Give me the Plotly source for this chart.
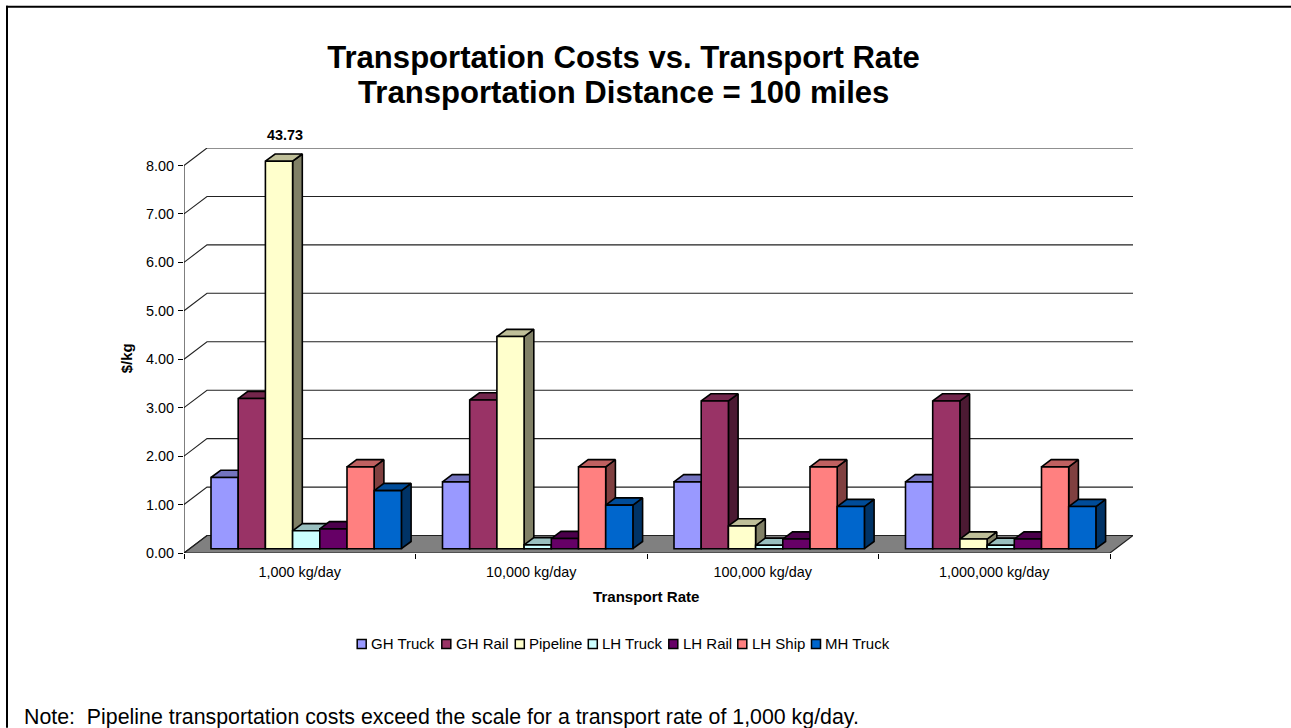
import plotly.graph_objects as go

# ---------- data ----------
categories = ["1,000 kg/day", "10,000 kg/day", "100,000 kg/day", "1,000,000 kg/day"]
gh_truck = [1.47, 1.38, 1.38, 1.38]
gh_rail = [3.10, 3.07, 3.05, 3.05]
pipeline = [43.73, 4.38, 0.47, 0.20]
lh_truck = [0.37, 0.08, 0.07, 0.07]
lh_rail = [0.41, 0.21, 0.20, 0.20]
lh_ship = [1.69, 1.69, 1.69, 1.69]
mh_truck = [1.20, 0.90, 0.87, 0.87]
series_names = ["GH Truck", "GH Rail", "Pipeline", "LH Truck", "LH Rail", "LH Ship", "MH Truck"]
series_values = [gh_truck, gh_rail, pipeline, lh_truck, lh_rail, lh_ship, mh_truck]
y_ticks = [0, 1, 2, 3, 4, 5, 6, 7, 8]

# ---------- style / layout ----------
colors = ["#9999FF", "#993366", "#FFFFCC", "#CCFFFF", "#660066", "#FF8080", "#0066CC"]
FONT = "Liberation Sans, Arial, sans-serif"
W, H = 1291, 728
PX_L, PX_R, PX_T, PX_B = 184, 1133, 147.5, 553
UNIT_X = 231.5           # px per category
UNIT_Y = 48.5            # px per $/kg
AXIS_MAX = 8
WALL_DX, WALL_DY = 23 / UNIT_X, 17.5 / UNIT_Y
BAR_DX, BAR_DY = 9.7 / UNIT_X, 7.2 / UNIT_Y
BAR_W = 27.2 / UNIT_X
BAR_X0 = 27 / UNIT_X
BAR_BASE = 4.3 / UNIT_Y
EDGE = 1.6


def shade(hex_color, f):
    r, g, b = (int(hex_color[i:i + 2], 16) for i in (1, 3, 5))
    return f"rgb({round(r * f)},{round(g * f)},{round(b * f)})"


def paper_x(px):
    return (px - PX_L) / (PX_R - PX_L)


def paper_y(py):
    return (PX_B - py) / (PX_B - PX_T)


fig = go.Figure()
n = len(categories)

# floor
fig.add_trace(go.Scatter(
    x=[0, WALL_DX, n + WALL_DX, n, 0], y=[0, WALL_DY, WALL_DY, 0, 0],
    mode="lines", fill="toself", fillcolor="#808080",
    line=dict(color="#222222", width=1.2), hoverinfo="skip", showlegend=False,
    cliponaxis=False, zorder=0))

# gridlines (side wall + back wall)
gx, gy = [], []
for t in y_ticks:
    gx += [0, WALL_DX, n + WALL_DX, None]
    gy += [t, t + WALL_DY, t + WALL_DY, None]
fig.add_trace(go.Scatter(x=gx, y=gy, mode="lines", line=dict(color="#222222", width=1.1),
                         hoverinfo="skip", showlegend=False, cliponaxis=False, zorder=0))

# value axis line
fig.add_trace(go.Scatter(x=[0, 0], y=[0, AXIS_MAX], mode="lines", line=dict(color="#000000", width=1),
                         hoverinfo="skip", showlegend=False, cliponaxis=False, zorder=0))

# bars, painted left to right so each one covers the side of its neighbour
for s, (name, vals, col) in enumerate(zip(series_names, series_values, colors)):
    drawn = [min(v, AXIS_MAX) for v in vals]
    lefts = [g + BAR_X0 + s * BAR_W for g in range(n)]
    side_x, side_y, top_x, top_y = [], [], [], []
    for xl, v in zip(lefts, drawn):
        xr = xl + BAR_W
        b, t = BAR_BASE, BAR_BASE + v
        side_x += [xr, xr + BAR_DX, xr + BAR_DX, xr, xr, None]
        side_y += [b, b + BAR_DY, t + BAR_DY, t, b, None]
        top_x += [xl, xl + BAR_DX, xr + BAR_DX, xr, xl, None]
        top_y += [t, t + BAR_DY, t + BAR_DY, t, t, None]
    fig.add_trace(go.Scatter(x=side_x, y=side_y, mode="lines", fill="toself",
                             fillcolor=shade(col, 0.5), line=dict(color="#000000", width=EDGE),
                             hoverinfo="skip", showlegend=False, cliponaxis=False, zorder=2 * s + 1))
    fig.add_trace(go.Scatter(x=top_x, y=top_y, mode="lines", fill="toself",
                             fillcolor=shade(col, 0.75), line=dict(color="#000000", width=EDGE),
                             hoverinfo="skip", showlegend=False, cliponaxis=False, zorder=2 * s + 1))
    fig.add_trace(go.Bar(x=[xl + BAR_W / 2 for xl in lefts], y=drawn, base=BAR_BASE, width=BAR_W,
                         name=name, marker=dict(color=col, line=dict(color="#000000", width=EDGE)),
                         customdata=vals, hovertemplate=name + ": %{customdata:.2f}<extra></extra>",
                         showlegend=False, cliponaxis=False, zorder=2 * s + 2))

shapes = [
    dict(type="line", xref="paper", yref="paper", x0=paper_x(7), x1=paper_x(7),
         y0=paper_y(5), y1=paper_y(728), line=dict(color="#000000", width=2)),
    dict(type="line", xref="paper", yref="paper", x0=paper_x(6), x1=paper_x(1291),
         y0=paper_y(6), y1=paper_y(6), line=dict(color="#000000", width=2)),
]
annotations = []


def text(px, py, s, size, bold=False, anchor="center", angle=0):
    annotations.append(dict(
        xref="paper", yref="paper", x=paper_x(px), y=paper_y(py), text=f"<b>{s}</b>" if bold else s,
        showarrow=False, xanchor=anchor, yanchor="middle", borderpad=0, textangle=angle,
        font=dict(family=FONT, size=size, color="#000000")))


# legend
legend_x = [356.4, 441, 514.5, 587.5, 668, 737, 810.7]
for name, col, lx in zip(series_names, colors, legend_x):
    shapes.append(dict(type="rect", xref="paper", yref="paper", x0=paper_x(lx + 0.8), x1=paper_x(lx + 9.8),
                       y0=paper_y(639.5), y1=paper_y(648.5), fillcolor=col,
                       line=dict(color="#000000", width=1.5), layer="above"))
    text(lx + 13.5, 644, name, 15, anchor="left")

# title second line, axis titles, pipeline label, note
text(623.5, 92, "Transportation Distance = 100 miles", 31.1, bold=True)
text(646, 597, "Transport Rate", 15.1, bold=True)
text(126.5, 358.5, "$/kg", 15, bold=True, angle=-90)
text(284.7, 134, f"{pipeline[0]:.2f}", 14.4, bold=True)
text(23, 717.5, "Note:\u00a0\u00a0Pipeline transportation costs exceed the scale for a transport rate of 1,000 kg/day.",
     21.35, anchor="left")

fig.update_layout(
    width=W, height=H, autosize=False,
    margin=dict(l=PX_L, r=W - PX_R, t=PX_T, b=H - PX_B),
    paper_bgcolor="#FFFFFF", plot_bgcolor="#FFFFFF",
    font=dict(family=FONT, color="#000000", size=14),
    showlegend=False, barmode="overlay",
    title=dict(text="<b>Transportation Costs vs. Transport Rate</b>", x=623.5 / W, xanchor="center",
               y=1 - 57 / H, yanchor="middle", font=dict(family=FONT, size=31.1, color="#000000")),
    xaxis=dict(range=[0, n + WALL_DX], showgrid=False, zeroline=False, showline=False,
               tickmode="array", tickvals=[g + 0.5 for g in range(n)], ticktext=categories,
               ticks="", tickfont=dict(size=14.4), ticklabelstandoff=9,
               minor=dict(tickmode="array", tickvals=list(range(n + 1)), ticks="outside",
                          ticklen=5, tickcolor="#000000", tickwidth=1, showgrid=False)),
    yaxis=dict(range=[0, AXIS_MAX + WALL_DY], showgrid=False, zeroline=False, showline=False,
               tickmode="array", tickvals=y_ticks, ticktext=[f"{t:.2f}" for t in y_ticks],
               ticks="outside", ticklen=5, tickcolor="#000000", tickwidth=1, tickfont=dict(size=14.4),
               ticklabelstandoff=1),
    shapes=shapes, annotations=annotations,
)

fig.write_html("out.html", config={"displayModeBar": False},
               post_script="document.body.style.margin='0';document.documentElement.style.overflow='hidden';")
